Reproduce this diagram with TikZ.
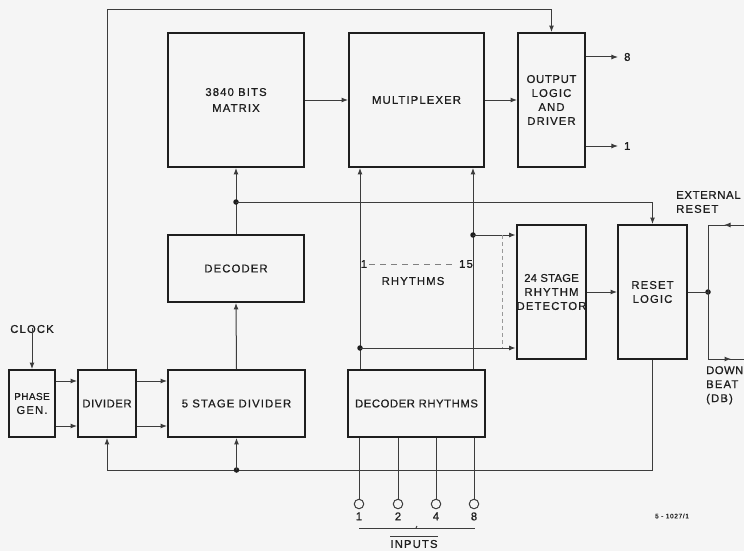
\documentclass[tikz,border=0pt]{standalone}
\usepackage{fontspec}
\setmainfont{Liberation Sans}[LetterSpace=10, FakeBold=0.7]
\usetikzlibrary{arrows.meta}
\definecolor{bg}{RGB}{245,245,245}
\definecolor{ink}{RGB}{30,30,30}
\definecolor{wire}{RGB}{60,60,60}
\begin{document}
\begin{tikzpicture}[x=1pt,y=-1pt,
  every node/.style={font=\fontsize{11.3}{14}\selectfont, text=ink},
  blk/.style={draw=ink, line width=1.9pt, align=center, inner sep=0pt},
  con/.style={draw=wire, line width=1pt},
  arr/.style={con, -{Latex[length=6.5pt,width=5pt]}},
  dot/.style={circle, fill=ink, inner sep=0pt, minimum size=5.5pt},
  lbl/.style={inner sep=0pt, align=left},
  pin/.style={circle, draw=wire, line width=1pt, minimum size=9.5pt, inner sep=0pt}]
\useasboundingbox[fill=bg] (0,0) rectangle (744,551);

% blocks
\node[blk, minimum width=46, minimum height=67] (phase) at (32,403.5) {\fontsize{10}{12.5}\selectfont\addfontfeature{LetterSpace=4}PHASE\\GEN.};
\node[blk, minimum width=58, minimum height=67] (divider) at (107,403.5) {\addfontfeature{LetterSpace=5}DIVIDER};
\node[blk, minimum width=137, minimum height=67] (sdiv) at (236.5,403.5) {5 STAGE DIVIDER};
\node[blk, minimum width=136, minimum height=67] (decoder) at (236,268.5) {DECODER};
\node[blk, minimum width=136, minimum height=134] (matrix) at (236,100) {3840 BITS\\[2pt]MATRIX};
\node[blk, minimum width=135, minimum height=134] (mux) at (416.5,100) {MULTIPLEXER};
\node[blk, minimum width=67, minimum height=134] (out) at (551.5,100) {\addfontfeature{LetterSpace=6}OUTPUT\\LOGIC\\AND\\DRIVER};
\node[blk, minimum width=69, minimum height=134] (det) at (551.5,292) {\addfontfeature{LetterSpace=2}24 STAGE\\RHYTHM\\DETECTOR};
\node[blk, minimum width=69, minimum height=134] (reset) at (652.5,292) {RESET\\LOGIC};
\node[blk, minimum width=137, minimum height=67] (decr) at (416.5,403.5) {\addfontfeature{LetterSpace=5}DECODER RHYTHMS};

% helper levels
\coordinate (top) at (0,10);
\coordinate (mid) at (0,202);
\coordinate (bot) at (0,470);

% clock
\node[lbl] (clock) at (32,329) {CLOCK};
\draw[arr] (clock.south) ++(0,-5) -- (phase.north);

% phase gen -> divider -> 5 stage
\draw[arr] ([yshift=22.5pt]phase.east) -- ([yshift=22.5pt]divider.west);
\draw[arr] ([yshift=-22.5pt]phase.east) -- ([yshift=-22.5pt]divider.west);
\draw[arr] ([yshift=22.5pt]divider.east) -- ([yshift=22.5pt]sdiv.west);
\draw[arr] ([yshift=-22.5pt]divider.east) -- ([yshift=-22.5pt]sdiv.west);

% top line from divider to output logic
\draw[arr] (divider.north) -- (divider.north |- top) -| (out.north);

% vertical chain
\draw[arr] (sdiv.north) -- (decoder.south);
\draw[arr] (decoder.north) -- (matrix.south);
\node[dot] (dm) at (decoder.north |- mid) {};
\draw[arr] (dm.center) -| (reset.north);

% matrix -> mux -> out
\draw[arr] (matrix.east) -- (mux.west);
\draw[arr] (mux.east) -- (out.west);

% outputs
\coordinate (o8s) at ([yshift=43pt]out.east);
\coordinate (o1s) at ([yshift=-46pt]out.east);
\node[lbl, anchor=west] (o8) at ([xshift=38pt]o8s) {8};
\node[lbl, anchor=west] (o1) at ([xshift=38pt]o1s) {1};
\draw[arr] (o8s) -- ([xshift=-6pt]o8.west);
\draw[arr] (o1s) -- ([xshift=-6pt]o1.west);

% rhythm lines from decoder rhythms up to multiplexer
\coordinate (l1) at ([xshift=-56.5pt]decr.north);
\coordinate (l15) at ([xshift=56.5pt]decr.north);
\draw[arr] (l1) -- (l1 |- mux.south);
\draw[arr] (l15) -- (l15 |- mux.south);
\coordinate (da) at ([yshift=57pt]det.west);
\coordinate (db) at ([yshift=-56pt]det.west);
\node[dot] (ta) at (l15 |- da) {};
\node[dot] (tb) at (l1 |- db) {};
\draw[arr] (ta.center) -- (da);
\draw[arr] (tb.center) -- (db);
\draw[draw=black!40, line width=0.8pt, dash pattern=on 4pt off 3pt] ([xshift=-13pt]da) -- ([xshift=-13pt]db);

% rhythms labels
\node[lbl] (r1) at (364,264) {1};
\node[lbl] (r15) at (466,264) {15};
\draw[draw=black!50, line width=0.7pt, dash pattern=on 6pt off 5pt] ([xshift=2pt]r1.east) -- ([xshift=-2pt]r15.west);
\node[lbl] (rh) at (413,281) {RHYTHMS};

% detector -> reset
\draw[arr] (det.east) -- (reset.west);

% reset logic right side
\node[dot] (rd) at (708,292) {};
\draw[con] (reset.east) -- (rd.center);
\coordinate (rt) at (708,225);
\coordinate (rb) at (708,359);
\coordinate (er) at (744,225);
\coordinate (db2) at (744,359);
\draw[arr] (er) -- (724,225);
\draw[con] (726,225) -- (rt) -- (rb) -- (721,359);
\draw[arr] (720,359) -- (731,359);
\draw[con] (729,359) -- (db2);
\node[lbl, anchor=west] (ext) at (676,202) {\addfontfeature{LetterSpace=6}EXTERNAL\\RESET};
\node[lbl, anchor=north west] (down) at (706,366) {\addfontfeature{LetterSpace=4}DOWN\\BEAT\\(DB)};

% bottom feedback line
\draw[con] (reset.south) -- (reset.south |- bot) -- (divider.south |- bot);
\draw[arr] (divider.south |- bot) -- (divider.south);
\node[dot] (bd) at (sdiv.south |- bot) {};
\draw[arr] (bd.center) -- (sdiv.south);

% inputs
\foreach \n/\x/\t in {i1/359/1, i2/398/2, i4/436/4, i8/474/8}{
  \node[pin] (\n) at (\x,504) {};
  \draw[con] (\n.north |- decr.south) -- (\n.north);
  \node[lbl, anchor=north] (\n t) at ([yshift=-3pt]\n.south) {\t};
}
\coordinate (brl) at (359,528);
\coordinate (brr) at (475,528);
\draw[con] (brl) -- (brr);
\draw[con] (416,528) -- (417,526);
\node[lbl] (inputs) at (414,544) {INPUTS};
\draw[con] ([yshift=3pt]inputs.north west) -- ([yshift=3pt]inputs.north east);

% figure code
\node[lbl] (code) at (672,516) {\fontsize{6.5}{8}\selectfont 5 - 1027/1};
\end{tikzpicture}
\end{document}
